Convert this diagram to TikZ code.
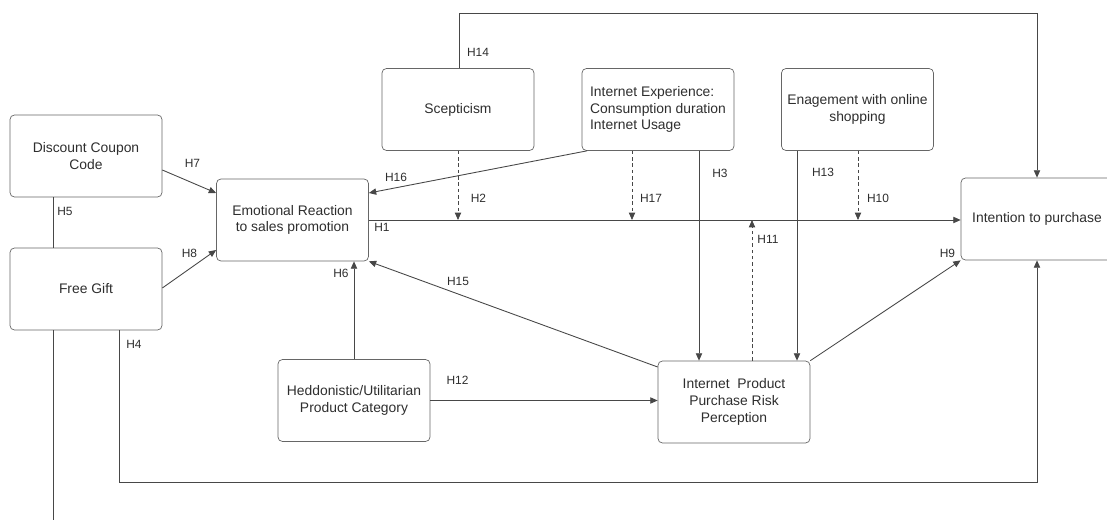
\documentclass[tikz,border=0pt]{standalone}
\usepackage{fontspec}
\setmainfont{Liberation Sans}
\usetikzlibrary{arrows.meta, positioning}

\begin{document}
\begin{tikzpicture}[x=0.02cm, y=-0.02cm,
    every node/.style={font=\fontsize{7.9}{9.5}\selectfont, text=black!82},
    box/.style={draw=black!60, rounded corners=2.5pt, minimum width=3.04cm, minimum height=1.64cm, align=center, inner sep=2pt},
    link/.style={draw=black!72, line width=0.5pt},
    arr/.style={link, -{Triangle[length=4.2pt, width=3.6pt]}},
    darr/.style={arr, dash pattern=on 2pt off 1.6pt},
    hyp/.style={font=\fontsize{6.8}{8}\selectfont, inner sep=0pt}]
    \useasboundingbox (0,0) rectangle (1107,524);

    % Boxes
    \node[box] (coupon) at (86,156) {Discount Coupon\\Code};
    \node[box] (gift) at (86,289) {Free Gift};
    \node[box] (emo) at (292.5,220) {Emotional Reaction\\to sales promotion};
    \node[box] (scep) at (458,109.5) {Scepticism};
    \node[box, align=left] (exp) at (658,109.5) {Internet Experience:\\Consumption duration\\Internet Usage};
    \node[box] (eng) at (857.5,109.5) {Enagement with online\\shopping};
    \node[box] (intent) at (1037,219) {Intention to purchase};
    \node[box] (hed) at (354,400.5) {Heddonistic/Utilitarian\\Product Category};
    \node[box] (risk) at (734,402) {Internet~ Product\\Purchase Risk\\Perception};

    % Free ends and bends
    \coordinate (tail) at (53,520);
    \coordinate (bend4) at (119,482);
    \coordinate (bend14) at (459,13);

    % Connectors
    \draw[arr] (coupon.east |- 0,170) -- (emo.west |- 0,193);
    \draw[arr] (gift.east |- 0,288) -- (emo.west |- 0,250);
    \draw[link] (coupon.south -| tail) -- (gift.north -| tail);
    \draw[link] (gift.south -| tail) -- (tail);
    \draw[arr] (gift.south -| bend4) -- (bend4) -| (intent.south);
    \draw[arr] (scep.north -| bend14) -- (bend14) -| (intent.north);
    \draw[arr] (exp.south -| 587,0) -- (emo.east |- 0,193);
    \draw[arr] (emo.east) -- (intent.west |- emo.east);
    \draw[darr] (scep.south) -- (scep.south |- emo.east);
    \draw[darr] (exp.south -| 632,0) -- (632,220);
    \draw[arr] (exp.south -| 699,0) -- (risk.north -| 699,0);
    \draw[arr] (eng.south -| 797,0) -- (risk.north -| 797,0);
    \draw[darr] (eng.south -| 858,0) -- (858,220);
    \draw[darr] (risk.north -| 752,0) -- (752,220);
    \draw[arr] (risk.north east) -- (intent.south west);
    \draw[arr] (risk.west |- 0,367) -- (emo.south east);
    \draw[arr] (hed.north) -- (emo.south -| hed.north);
    \draw[arr] (hed.east) -- (risk.west |- hed.east);

    % Hypothesis labels
    \node[hyp] (h1) at (382,227) {H1};
    \node[hyp] (h2) at (478.5,198) {H2};
    \node[hyp] (h3) at (720,173) {H3};
    \node[hyp] (h4) at (134,344) {H4};
    \node[hyp] (h5) at (65,211) {H5};
    \node[hyp] (h6) at (341,273) {H6};
    \node[hyp] (h7) at (192.5,163) {H7};
    \node[hyp] (h8) at (189.5,253) {H8};
    \node[hyp] (h9) at (947.5,253) {H9};
    \node[hyp] (h10) at (878,198) {H10};
    \node[hyp] (h11) at (768,239) {H11};
    \node[hyp] (h12) at (457.5,380) {H12};
    \node[hyp] (h13) at (823,172) {H13};
    \node[hyp] (h14) at (478,52) {H14};
    \node[hyp] (h15) at (458,281) {H15};
    \node[hyp] (h16) at (396,177) {H16};
    \node[hyp] (h17) at (651,198) {H17};
\end{tikzpicture}
\end{document}
